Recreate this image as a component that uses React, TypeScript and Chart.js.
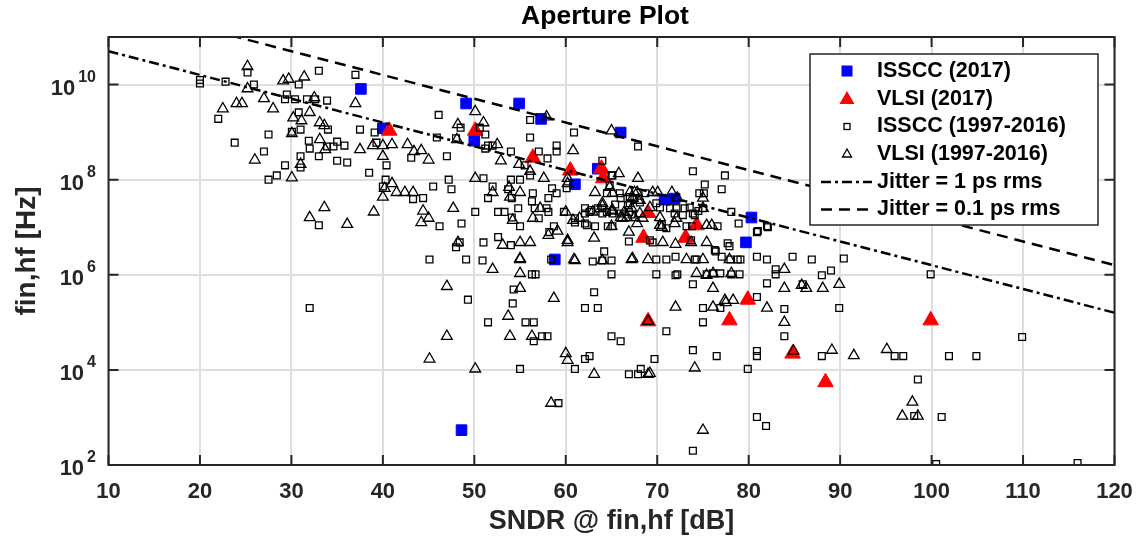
import React, { useEffect, useRef } from 'react';
import { Chart, registerables } from 'chart.js';

Chart.register(...registerables);

const FONT = '"Liberation Sans", Arial, Helvetica, sans-serif';

const chartTitle = 'Aperture Plot';
const xAxisTitle = 'SNDR @ fin,hf [dB]';
const yAxisTitle = 'fin,hf [Hz]';
const xTickValues = [10, 20, 30, 40, 50, 60, 70, 80, 90, 100, 110, 120];
const yTickValues = [1e2, 1e4, 1e6, 1e8, 1e10];
const legendLabels = [
  'ISSCC (2017)',
  'VLSI (2017)',
  'ISSCC (1997-2016)',
  'VLSI (1997-2016)',
  'Jitter = 1 ps rms',
  'Jitter = 0.1 ps rms',
];

// [SNDR dB, fin,hf Hz]
const isscc2017: [number, number][] = [
  [37.6, 8.1e9], [40.0, 1.2e9], [49.1, 4.0e9], [54.9, 4.0e9], [57.3, 1.9e9], [50.0, 6.6e8],
  [66.0, 9.8e8], [63.5, 1.7e8], [61.0, 8.0e7], [58.8, 2.1e6], [70.8, 3.8e7], [71.9, 4.0e7],
  [80.3, 1.6e7], [79.7, 4.8e6], [48.6, 5.4e2],
];

const vlsi2017: [number, number][] = [
  [40.7, 1.07e9], [50.1, 1.07e9], [56.4, 2.9e8], [60.5, 1.55e8], [63.9, 1.7e8], [64.1, 1.07e8],
  [69.0, 2.0e7], [68.5, 6.0e6], [73.1, 6.0e6], [74.3, 1.1e7], [69.0, 1.05e5], [77.9, 1.1e5],
  [79.9, 3.0e5], [84.8, 2.2e4], [88.4, 5.5e3], [99.9, 1.1e5],
];

const isscc9716: [number, number][] = [
  [20.0, 1.25e10], [20.0, 1.05e10], [25.2, 1.8e10], [33.0, 1.95e10], [37.0, 1.6e10], [22.8, 1.15e10],
  [25.9, 1.0e10], [30.8, 1.0e10], [29.5, 6.2e9], [29.3, 4.9e9], [30.4, 4.9e9], [31.7, 4.9e9],
  [32.6, 4.9e9], [33.9, 4.6e9], [22.0, 1.9e9], [30.8, 2.6e9], [27.5, 8.9e8], [30.05, 1.02e9],
  [31.0, 1.13e9], [34.0, 1.13e9], [37.5, 1.13e9], [39.1, 9.8e8], [23.8, 6.0e8], [31.9, 6.6e8],
  [35.0, 6.3e8], [35.8, 5.2e8], [39.3, 6.0e8], [27.0, 3.9e8], [32.0, 4.5e8], [33.9, 5.0e8],
  [34.6, 5.0e8], [31.0, 3.1e8], [33.0, 3.1e8], [35.0, 2.5e8], [36.1, 2.3e8], [29.3, 2.0e8],
  [31.0, 1.8e8], [40.4, 2.0e8], [28.4, 1.23e8], [27.5, 1.0e8], [38.5, 1.4e8], [40.3, 1.0e8],
  [40.0, 7.2e7], [33.0, 1.1e7],
  [46.1, 2.3e9], [43.1, 2.9e8], [47.0, 3.1e8], [45.9, 7.7e8], [48.0, 7.4e8], [48.5, 1.24e9],
  [50.6, 1.24e9], [51.2, 8.9e8], [51.5, 5.2e8], [52.0, 5.2e8], [51.2, 4.5e8], [54.0, 3.9e8],
  [56.1, 1.8e9], [56.1, 7.7e8], [57.05, 3.9e8], [58.0, 2.8e8], [59.0, 5.2e8], [59.0, 3.9e8],
  [60.9, 9.8e8], [64.0, 2.5e8], [55.5, 2.0e8], [54.0, 1.0e8], [55.0, 1.0e8], [56.1, 1.23e8],
  [47.2, 1.0e8], [51.0, 1.07e8], [45.5, 7.2e7], [47.5, 6.3e7], [43.3, 3.9e7], [44.4, 4.1e7],
  [52.0, 7.2e7], [53.7, 6.3e7], [51.5, 4.1e7], [54.1, 4.1e7], [56.4, 5.2e7], [56.3, 3.5e7],
  [58.1, 4.1e7], [58.5, 6.6e7], [59.0, 5.2e7], [60.1, 6.6e7], [50.1, 2.1e7], [52.6, 2.1e7],
  [53.3, 2.1e7], [54.8, 2.5e7], [54.1, 1.6e7], [56.6, 2.5e7], [57.9, 2.5e7], [58.1, 2.1e7],
  [46.2, 1.05e7], [48.6, 1.2e7], [55.0, 1.05e7], [57.05, 1.55e7], [58.7, 1.05e7], [58.2, 7.9e6],
  [59.8, 2.1e7], [61.0, 1.55e7], [62.1, 1.2e7], [63.2, 1.05e7], [62.1, 2.5e7], [62.6, 2.1e7],
  [63.5, 2.5e7], [65.4, 3.0e7], [64.5, 2.1e7], [52.6, 6.2e6], [54.0, 4.2e6], [51.0, 4.8e6],
  [48.0, 3.8e6], [48.4, 4.8e6], [45.1, 2.1e6], [49.1, 2.1e6], [50.9, 2.0e6], [56.3, 1.02e6],
  [56.7, 1.02e6], [62.95, 1.9e6], [64.0, 2.0e6], [65.0, 2.0e6], [64.2, 3.1e6], [66.9, 5.0e6],
  [65.0, 1.02e6], [67.9, 5.0e8], [65.0, 1.23e8], [65.9, 5.2e7], [66.8, 2.9e7], [66.9, 2.1e7],
  [67.5, 4.1e7], [68.7, 5.2e7],
  [73.9, 1.5e8], [77.4, 1.23e8], [77.05, 6.3e7], [75.2, 7.9e7], [74.6, 5.2e7], [75.1, 5.2e7],
  [64.5, 5.2e7], [73.55, 2.6e7], [72.1, 2.5e7], [71.4, 2.5e7], [70.3, 2.6e7], [78.1, 2.1e7],
  [78.9, 1.2e7], [82.0, 1.05e7], [80.9, 7.9e6], [72.8, 1.8e7], [74.1, 1.8e7], [71.0, 9.5e6],
  [73.2, 1.05e7], [73.8, 1.05e7], [76.6, 1.05e7], [69.2, 5.3e6], [77.7, 4.6e6], [77.9, 4.0e6],
  [76.3, 3.3e6], [77.05, 2.4e6], [78.8, 2.1e6], [80.9, 2.4e6], [84.8, 2.4e6], [86.9, 2.1e6],
  [90.4, 2.2e6], [69.9, 2.1e6], [71.0, 2.1e6], [72.0, 2.4e6], [69.9, 1.02e6], [72.2, 1.02e6],
  [75.4, 1.02e6], [76.1, 1.07e6], [76.9, 1.07e6], [78.1, 1.02e6], [79.0, 1.02e6], [82.95, 1.3e6],
  [82.95, 1.02e6], [88.0, 9.8e5], [89.0, 1.23e6], [73.9, 6.3e5], [82.0, 6.6e5], [85.9, 6.3e5],
  [80.9, 3.4e5], [79.1, 2.1e6], [82.0, 2.1e6], [76.4, 3.1e6], [74.1, 2.1e6],
  [99.9, 1.02e6], [75.0, 2.0e5], [76.9, 2.0e5], [83.9, 1.9e5], [89.9, 2.0e5], [75.0, 1.0e5],
  [71.0, 6.5e4], [83.9, 5.1e4], [73.9, 2.6e4], [76.5, 1.95e4], [80.9, 2.5e4], [80.9, 1.95e4],
  [88.0, 1.95e4], [95.96, 1.95e4], [96.9, 1.95e4], [101.9, 1.95e4], [104.9, 1.95e4], [69.7, 1.7e4],
  [79.9, 1.05e4], [98.5, 6.3e3], [80.9, 1.02e3], [81.9, 6.6e2], [101.1, 1.02e3], [73.9, 2.0e2],
  [100.5, 1.05e2], [109.9, 4.9e4], [98.1, 1.07e3], [115.96, 1.1e2],
  [58.4, 2.1e6], [72.0, 9.8e5], [54.3, 4.9e5], [63.1, 4.3e5], [49.3, 3.0e5], [54.2, 2.5e5],
  [62.1, 2.0e5], [63.5, 2.0e5], [51.5, 1.0e5], [55.6, 1.0e5], [56.5, 1.0e5], [57.4, 5.1e4],
  [58.0, 5.1e4], [56.5, 4.0e4], [65.0, 5.1e4], [66.0, 4.0e4], [62.1, 1.7e4], [62.6, 1.95e4],
  [55.0, 1.05e4], [61.0, 1.05e4], [66.9, 8.1e3], [67.9, 8.1e3], [68.2, 1.05e4], [59.2, 2.0e3],
  [32.0, 2.0e5],
  [65.1, 1.23e8], [64.8, 7.6e7], [66.0, 4.1e7], [67.0, 4.3e7], [67.0, 3.2e7], [68.1, 3.3e7],
  [69.9, 3.2e7], [71.9, 1.95e7], [73.0, 2.5e7], [73.9, 1.95e7], [74.5, 2.2e7], [75.0, 2.5e7],
  [81.0, 8.3e6], [82.1, 1.0e7], [62.1, 1.95e7], [62.8, 2.3e7], [64.0, 2.5e7], [64.0, 1.95e7],
  [65.1, 1.95e7], [66.0, 1.95e7], [67.2, 1.85e7], [61.0, 1.26e7], [62.3, 1.1e7], [64.6, 1.05e7],
  [65.1, 1.05e7], [70.5, 1.1e7], [69.5, 4.8e6], [73.7, 5.3e6], [74.3, 2.1e6], [78.0, 2.1e6],
];

const vlsi9716: [number, number][] = [
  [25.2, 2.4e10], [29.1, 1.2e10], [29.7, 1.3e10], [31.4, 1.45e10], [25.2, 8.2e9], [27.0, 5.1e9],
  [32.5, 5.3e9], [37.0, 4.0e9], [22.5, 3.1e9], [24.0, 4.0e9], [24.6, 4.0e9], [28.0, 3.1e9],
  [30.2, 2.0e9], [31.1, 1.74e9], [32.0, 2.6e9], [33.1, 1.58e9], [33.6, 1.38e9], [30.05, 9.3e8],
  [33.1, 7.0e8], [33.7, 4.3e8], [37.5, 4.3e8], [38.9, 5.2e8], [40.0, 5.2e8], [41.0, 5.5e8],
  [40.0, 3.1e8], [26.0, 2.6e8], [31.0, 2.1e8], [30.05, 1.1e8], [41.0, 8.3e7], [40.2, 6.6e7],
  [41.5, 5.4e7], [40.0, 4.3e7], [33.6, 2.6e7], [32.0, 1.6e7], [39.0, 2.1e7], [36.1, 1.15e7],
  [50.1, 2.7e9], [48.2, 1.44e9], [51.0, 1.58e9], [42.7, 5.5e8], [43.4, 3.9e8], [44.2, 4.1e8],
  [45.0, 2.6e8], [48.1, 7.0e8], [52.5, 5.5e8], [52.9, 2.5e8], [54.9, 2.1e8], [56.1, 1.5e8],
  [50.1, 1.07e8], [57.6, 1.07e8], [42.4, 5.4e7], [43.3, 5.4e7], [44.4, 2.2e7], [45.0, 1.55e7],
  [44.2, 1.26e7], [47.7, 2.5e7], [52.0, 5.4e7], [53.9, 4.3e7], [53.8, 6.9e7], [55.0, 5.4e7],
  [54.2, 1.4e7], [57.2, 2.5e7], [56.4, 1.55e7], [58.1, 6.8e6], [59.1, 8.3e6], [60.2, 4.8e6],
  [55.0, 4.8e6], [56.1, 4.8e6], [53.1, 4.2e6], [48.2, 4.8e6], [60.8, 4.1e8], [57.9, 2.1e9],
  [65.0, 1.07e9], [67.9, 1.07e8], [67.5, 5.4e7], [67.9, 3.7e7], [63.2, 5.4e7], [64.0, 2.8e7],
  [60.0, 2.1e7], [60.8, 1.4e7], [63.1, 5.9e6], [65.0, 2.2e7], [66.0, 1.6e7], [66.9, 7.9e6],
  [61.0, 2.0e6], [55.0, 2.2e6], [67.3, 2.2e6], [52.0, 1.3e6], [55.0, 1.07e6],
  [65.8, 1.35e8], [64.8, 6.9e7], [70.05, 5.4e7], [71.6, 5.4e7], [67.0, 5.4e7], [68.1, 3.7e7],
  [67.3, 4.1e7], [65.1, 2.3e7], [66.2, 1.55e7], [68.4, 1.55e7], [70.3, 1.6e7], [67.8, 1.2e7],
  [72.1, 1.55e7], [70.5, 1.0e7], [65.0, 1.05e7], [75.0, 2.5e7], [75.4, 1.1e7], [75.96, 1.1e7],
  [70.6, 4.8e6], [72.0, 4.4e6], [73.7, 4.8e6], [75.4, 4.8e6], [67.2, 2.1e6], [69.0, 2.1e6],
  [73.2, 2.1e6], [75.0, 2.1e6], [77.9, 2.1e6], [74.3, 1.07e6], [76.1, 1.07e6], [78.1, 1.07e6],
  [76.1, 5.2e5], [83.9, 1.3e6], [83.9, 5.2e5], [85.8, 6.0e5], [86.3, 5.2e5], [88.1, 5.2e5],
  [89.9, 6.3e5], [77.4, 2.9e5], [78.3, 2.9e5],
  [72.0, 2.1e5], [76.1, 2.1e5], [77.5, 2.6e5], [82.0, 2.0e5], [83.9, 1.0e5], [84.9, 2.5e4],
  [89.1, 2.6e4], [91.5, 2.0e4], [95.1, 2.7e4], [74.1, 1.1e4], [69.2, 8.5e3], [97.9, 2.1e3],
  [96.8, 1.07e3], [98.5, 1.07e3], [75.0, 5.4e2], [69.0, 1.05e5],
  [55.0, 2.1e6], [64.0, 2.0e6], [47.0, 5.7e5], [55.0, 5.2e5], [58.7, 3.2e5], [53.7, 1.35e5],
  [47.0, 5.1e4], [53.9, 5.1e4], [56.3, 5.1e4], [45.1, 1.7e4], [50.1, 1.05e4], [60.0, 2.2e4],
  [60.2, 1.6e4], [63.1, 8.1e3], [69.0, 8.1e3], [58.4, 2.0e3],
  [60.2, 1.07e8], [60.2, 8.3e7], [65.1, 5.2e7], [67.8, 5.4e7], [69.5, 5.4e7], [72.2, 4.1e7],
  [75.0, 4.1e7], [64.0, 3.2e7], [62.95, 2.1e7], [66.4, 2.1e7], [67.2, 2.5e7], [67.5, 1.6e7],
  [68.1, 1.95e7], [69.2, 2.6e7], [71.9, 1.2e7], [66.7, 1.6e7], [70.3, 1.1e7], [61.5, 1.55e7],
  [60.2, 5.3e6], [60.9, 2.1e6], [75.4, 9.8e5],
];

// Jitter lines: end points [SNDR, Hz]
const jitter1ps: [number, number][] = [[10, 5.03e10], [120, 1.59e5]];
const jitter01ps: [number, number][] = [[10, 5.03e11], [120, 1.59e6]];

const toPts = (arr: [number, number][]) => arr.map(([x, y]) => ({ x, y }));

const AXIS_COLOR = '#262626';

const decorPlugin = {
  id: 'decor',
  afterDatasetsDraw(chart: any) {
    const { ctx, chartArea, scales } = chart;
    const { left, right, top, bottom } = chartArea;
    const xs = scales.x;
    const ys = scales.y;
    ctx.save();

    // axes box
    ctx.strokeStyle = AXIS_COLOR;
    ctx.lineWidth = 2;
    ctx.setLineDash([]);
    ctx.strokeRect(left, top, right - left, bottom - top);

    // inner tick marks
    ctx.beginPath();
    for (const v of xTickValues) {
      const px = xs.getPixelForValue(v);
      ctx.moveTo(px, bottom);
      ctx.lineTo(px, bottom - 10);
      ctx.moveTo(px, top);
      ctx.lineTo(px, top + 10);
    }
    for (const v of yTickValues) {
      const py = ys.getPixelForValue(v);
      ctx.moveTo(left, py);
      ctx.lineTo(left + 10, py);
      ctx.moveTo(right, py);
      ctx.lineTo(right - 10, py);
    }
    ctx.stroke();

    // y tick labels with superscript exponent
    ctx.fillStyle = AXIS_COLOR;
    ctx.textBaseline = 'middle';
    for (const v of yTickValues) {
      const py = ys.getPixelForValue(v);
      const exp = String(Math.round(Math.log10(v)));
      ctx.font = `bold 16px ${FONT}`;
      ctx.textAlign = 'right';
      const ew = ctx.measureText(exp).width;
      ctx.fillText(exp, 96, py - 7);
      ctx.font = `bold 22px ${FONT}`;
      ctx.fillText('10', 96 - ew - 3, py + 4);
    }

    // title
    ctx.fillStyle = '#000';
    ctx.font = `bold 26.5px ${FONT}`;
    ctx.textAlign = 'center';
    ctx.textBaseline = 'middle';
    ctx.fillText(chartTitle, 605, 17);

    // legend
    const lx = 810, ly = 54, lw = 288, lh = 171;
    ctx.fillStyle = '#fff';
    ctx.fillRect(lx, ly, lw, lh);
    ctx.strokeStyle = AXIS_COLOR;
    ctx.lineWidth = 1.5;
    ctx.strokeRect(lx, ly, lw, lh);
    const rows = [71, 99, 126.5, 154, 182, 209.5];
    const mx = 847;
    // blue square
    ctx.fillStyle = '#0000ff';
    ctx.fillRect(mx - 5.5, rows[0] - 5.5, 11, 11);
    // red triangle
    ctx.fillStyle = '#ff0000';
    ctx.beginPath();
    ctx.moveTo(mx, rows[1] - 8);
    ctx.lineTo(mx + 7.5, rows[1] + 5);
    ctx.lineTo(mx - 7.5, rows[1] + 5);
    ctx.closePath();
    ctx.fill();
    // open square
    ctx.strokeStyle = '#000';
    ctx.lineWidth = 1.3;
    ctx.strokeRect(mx - 3, rows[2] - 3, 6, 6);
    // open triangle
    ctx.beginPath();
    ctx.moveTo(mx, rows[3] - 5);
    ctx.lineTo(mx + 4.5, rows[3] + 3);
    ctx.lineTo(mx - 4.5, rows[3] + 3);
    ctx.closePath();
    ctx.stroke();
    // line samples
    ctx.lineWidth = 2.5;
    ctx.setLineDash([10, 4, 3, 4]);
    ctx.beginPath();
    ctx.moveTo(821, rows[4]);
    ctx.lineTo(872, rows[4]);
    ctx.stroke();
    ctx.setLineDash([11, 7]);
    ctx.beginPath();
    ctx.moveTo(821, rows[5]);
    ctx.lineTo(872, rows[5]);
    ctx.stroke();
    ctx.setLineDash([]);
    // labels
    ctx.fillStyle = '#000';
    ctx.font = `bold 21.5px ${FONT}`;
    ctx.textAlign = 'left';
    ctx.textBaseline = 'middle';
    legendLabels.forEach((t, i) => ctx.fillText(t, 877, rows[i]));

    ctx.restore();
  },
};

export default function App() {
  const canvasRef = useRef<HTMLCanvasElement | null>(null);

  useEffect(() => {
    const canvas = canvasRef.current;
    if (!canvas) return;
    const chart = new Chart(canvas, {
      type: 'scatter',
      data: {
        datasets: [
          {
            label: legendLabels[4],
            data: toPts(jitter1ps),
            showLine: true,
            borderColor: '#000',
            borderWidth: 2.5,
            borderDash: [10, 4, 3, 4],
            pointRadius: 0,
            fill: false,
            order: 0,
          },
          {
            label: legendLabels[5],
            data: toPts(jitter01ps),
            showLine: true,
            borderColor: '#000',
            borderWidth: 2.5,
            borderDash: [11, 7],
            pointRadius: 0,
            fill: false,
            order: 0,
          },
          {
            label: legendLabels[3],
            data: toPts(vlsi9716),
            pointStyle: 'triangle',
            pointRadius: 6.2,
            backgroundColor: 'rgba(0,0,0,0)',
            borderColor: '#000',
            borderWidth: 1.3,
            order: 1,
          },
          {
            label: legendLabels[2],
            data: toPts(isscc9716),
            pointStyle: 'rect',
            pointRadius: 4.8,
            backgroundColor: 'rgba(0,0,0,0)',
            borderColor: '#000',
            borderWidth: 1.3,
            order: 2,
          },
          {
            label: legendLabels[1],
            data: toPts(vlsi2017),
            pointStyle: 'triangle',
            pointRadius: 9,
            backgroundColor: '#ff0000',
            borderColor: '#ff0000',
            borderWidth: 1,
            order: 3,
          },
          {
            label: legendLabels[0],
            data: toPts(isscc2017),
            pointStyle: 'rect',
            pointRadius: 7.5,
            backgroundColor: '#0000ff',
            borderColor: '#0000ff',
            borderWidth: 1,
            order: 4,
          },
        ],
      },
      options: {
        responsive: false,
        animation: false,
        devicePixelRatio: 1,
        layout: { padding: { top: 37, right: 26.5, left: 0, bottom: 0 } },
        plugins: {
          legend: { display: false },
          title: { display: false },
          tooltip: { enabled: false },
        },
        scales: {
          x: {
            type: 'linear',
            position: 'bottom',
            min: 10,
            max: 120,
            afterBuildTicks: (s: any) => {
              s.ticks = xTickValues.map((v) => ({ value: v }));
            },
            afterFit: (s: any) => {
              s.height = 74;
              s.paddingLeft = 0;
              s.paddingRight = 0;
            },
            grid: { color: '#dedede', lineWidth: 2, drawTicks: false },
            border: { display: false },
            ticks: {
              font: { family: FONT, size: 22, weight: 'bold' },
              color: AXIS_COLOR,
              padding: 14,
              maxRotation: 0,
              autoSkip: false,
            },
            title: {
              display: true,
              text: xAxisTitle,
              font: { family: FONT, size: 27, weight: 'bold' },
              color: AXIS_COLOR,
              padding: { top: 0, bottom: 1 },
            },
          },
          y: {
            type: 'logarithmic',
            position: 'left',
            min: 1e2,
            max: 1e11,
            afterBuildTicks: (s: any) => {
              s.ticks = yTickValues.map((v) => ({ value: v }));
            },
            afterFit: (s: any) => {
              s.width = 108.5;
              s.paddingTop = 0;
              s.paddingBottom = 0;
            },
            grid: { color: '#dedede', lineWidth: 2, drawTicks: false },
            border: { display: false },
            ticks: { display: false },
            title: {
              display: true,
              text: yAxisTitle,
              font: { family: FONT, size: 28, weight: 'bold' },
              color: AXIS_COLOR,
              padding: { top: 10, bottom: 0 },
            },
          },
        },
      },
      plugins: [decorPlugin],
    } as any);
    return () => chart.destroy();
  }, []);

  return (
    <div style={{ position: 'fixed', left: 0, top: 0, width: 1141, height: 539, background: '#fff' }}>
      <canvas ref={canvasRef} width={1141} height={539} style={{ display: 'block', width: 1141, height: 539 }} />
    </div>
  );
}
